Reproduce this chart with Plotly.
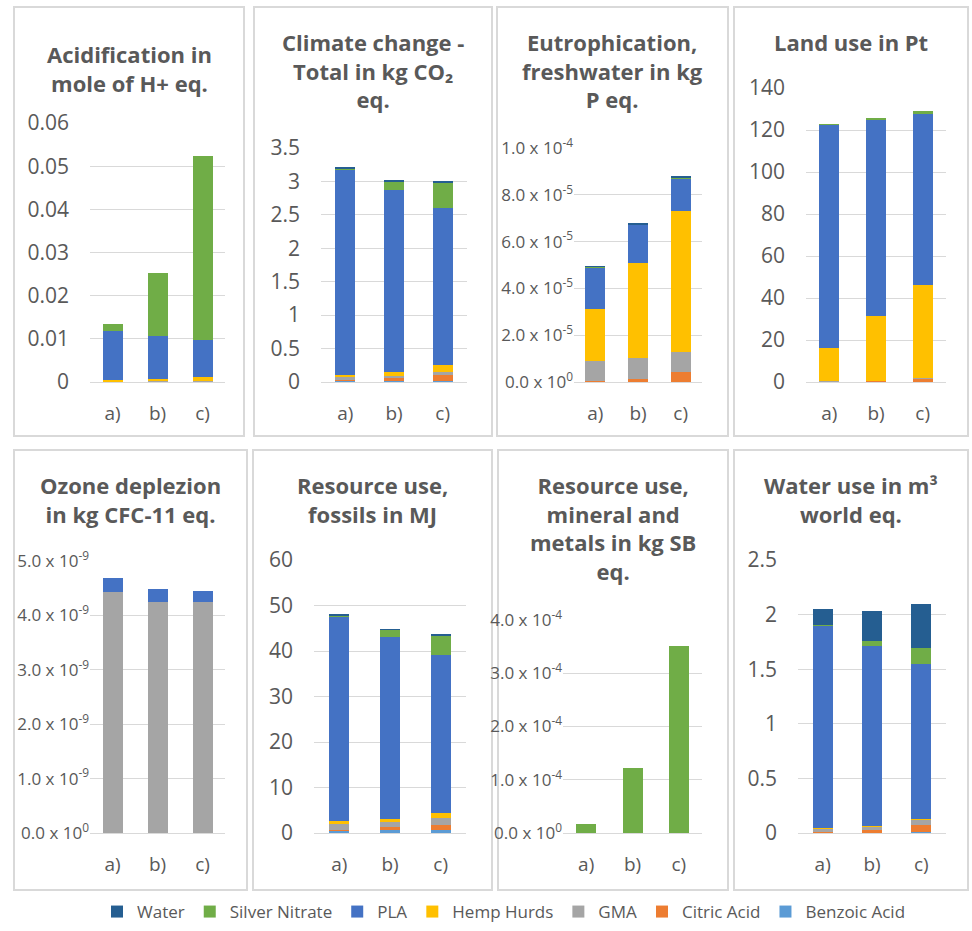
import plotly.graph_objects as go

# Alternatives compared in every impact category
CASES = ["a)", "b)", "c)"]

# Materials, bottom of the stack first
MATERIALS = ["Benzoic Acid", "Citric Acid", "GMA", "Hemp Hurds", "PLA", "Silver Nitrate", "Water"]
COLORS = {
    "Benzoic Acid": "#5B9BD5",
    "Citric Acid": "#ED7D31",
    "GMA": "#A5A5A5",
    "Hemp Hurds": "#FFC000",
    "PLA": "#4472C4",
    "Silver Nitrate": "#70AD47",
    "Water": "#255E91",
}

# Contributions per impact category (values for a), b), c))
acidification = {
    "Benzoic Acid": [0.00005, 0.00005, 0.00005],
    "Citric Acid": [0.00001, 0.00005, 0.0001],
    "GMA": [0.0001, 0.0001, 0.0001],
    "Hemp Hurds": [0.00034, 0.0006, 0.00085],
    "PLA": [0.0112, 0.0098, 0.00855],
    "Silver Nitrate": [0.0017, 0.0147, 0.0428],
    "Water": [0, 0, 0],
}
climate_change = {
    "Benzoic Acid": [0.02, 0.02, 0.015],
    "Citric Acid": [0.005, 0.035, 0.09],
    "GMA": [0.05, 0.04, 0.05],
    "Hemp Hurds": [0.035, 0.06, 0.10],
    "PLA": [3.07, 2.72, 2.355],
    "Silver Nitrate": [0.02, 0.13, 0.38],
    "Water": [0.005, 0.005, 0.005],
}
eutrophication = {
    "Benzoic Acid": [0.02e-5, 0.02e-5, 0.02e-5],
    "Citric Acid": [0.02e-5, 0.10e-5, 0.41e-5],
    "GMA": [0.86e-5, 0.89e-5, 0.87e-5],
    "Hemp Hurds": [2.22e-5, 4.08e-5, 5.99e-5],
    "PLA": [1.79e-5, 1.62e-5, 1.40e-5],
    "Silver Nitrate": [0.01e-5, 0.03e-5, 0.05e-5],
    "Water": [0.01e-5, 0.02e-5, 0.03e-5],
}
land_use = {
    "Benzoic Acid": [0.1, 0.1, 0.1],
    "Citric Acid": [0.1, 0.4, 1.5],
    "GMA": [0.1, 0.1, 0.1],
    "Hemp Hurds": [16.0, 30.6, 44.6],
    "PLA": [106.2, 93.7, 81.5],
    "Silver Nitrate": [0.2, 0.5, 1.4],
    "Water": [0, 0, 0],
}
ozone_depletion = {
    "Benzoic Acid": [0, 0, 0],
    "Citric Acid": [0, 0, 0],
    "GMA": [4.43e-9, 4.25e-9, 4.25e-9],
    "Hemp Hurds": [0, 0, 0],
    "PLA": [0.26e-9, 0.23e-9, 0.20e-9],
    "Silver Nitrate": [0, 0, 0],
    "Water": [0, 0, 0],
}
fossils = {
    "Benzoic Acid": [0.58, 0.58, 0.58],
    "Citric Acid": [0.05, 0.66, 1.24],
    "GMA": [1.41, 1.24, 1.54],
    "Hemp Hurds": [0.5, 0.66, 1.02],
    "PLA": [45.0, 39.86, 34.82],
    "Silver Nitrate": [0.35, 1.7, 4.3],
    "Water": [0.05, 0.05, 0.1],
}
minerals = {
    "Benzoic Acid": [0, 0, 0],
    "Citric Acid": [0, 0, 0],
    "GMA": [0, 0, 0],
    "Hemp Hurds": [0, 0, 0],
    "PLA": [0, 0, 0],
    "Silver Nitrate": [0.16e-4, 1.22e-4, 3.52e-4],
    "Water": [0, 0, 0],
}
water_use = {
    "Benzoic Acid": [0.005, 0.005, 0.005],
    "Citric Acid": [0.005, 0.018, 0.07],
    "GMA": [0.03, 0.04, 0.046],
    "Hemp Hurds": [0.002, 0.003, 0.004],
    "PLA": [1.854, 1.644, 1.422],
    "Silver Nitrate": [0.01, 0.05, 0.15],
    "Water": [0.144, 0.27, 0.40],
}

TITLES = [
    "Acidification in<br>mole of H+ eq.",
    "Climate change -<br>Total in kg CO₂<br>eq.",
    "Eutrophication,<br>freshwater in kg<br>P eq.",
    "Land use in Pt",
    "Ozone deplezion<br>in kg CFC-11 eq.",
    "Resource use,<br>fossils in MJ",
    "Resource use,<br>mineral and<br>metals in kg SB<br>eq.",
    "Water use in m³<br>world eq.",
]
DATASETS = [acidification, climate_change, eutrophication, land_use,
            ozone_depletion, fossils, minerals, water_use]


def sci(v, exp):
    return f"{v:.1f} x 10<sup>{exp}</sup>"


TICKS = [
    ([0, 0.01, 0.02, 0.03, 0.04, 0.05, 0.06], ["0", "0.01", "0.02", "0.03", "0.04", "0.05", "0.06"]),
    ([0, 0.5, 1, 1.5, 2, 2.5, 3, 3.5], ["0", "0.5", "1", "1.5", "2", "2.5", "3", "3.5"]),
    ([0, 2e-5, 4e-5, 6e-5, 8e-5, 1e-4], [sci(0, 0), sci(2, -5), sci(4, -5), sci(6, -5), sci(8, -5), sci(1, -4)]),
    ([0, 20, 40, 60, 80, 100, 120, 140], ["0", "20", "40", "60", "80", "100", "120", "140"]),
    ([0, 1e-9, 2e-9, 3e-9, 4e-9, 5e-9], [sci(0, 0), sci(1, -9), sci(2, -9), sci(3, -9), sci(4, -9), sci(5, -9)]),
    ([0, 10, 20, 30, 40, 50, 60], ["0", "10", "20", "30", "40", "50", "60"]),
    ([0, 1e-4, 2e-4, 3e-4, 4e-4], [sci(0, 0), sci(1, -4), sci(2, -4), sci(3, -4), sci(4, -4)]),
    ([0, 0.5, 1, 1.5, 2, 2.5], ["0", "0.5", "1", "1.5", "2", "2.5"]),
]
SCI_PANELS = {2, 4, 6}

W, H = 972, 931
# Plot areas in pixels: (left, right, top, bottom)
PLOT_PX = [
    (90, 225, 123, 382), (321, 467, 148, 382), (574, 702, 148, 382), (806, 946, 88, 382),
    (90, 225, 561, 833), (314, 466, 560, 833), (563, 702, 620, 833), (798, 946, 560, 833),
]
# Panel frames in pixels: (left, right, top, bottom)
BOX_PX = [
    (14, 244, 7, 436), (254, 492, 7, 436), (497, 728, 7, 436), (734, 968, 7, 436),
    (14, 247, 450, 890), (253, 492, 450, 890), (498, 728, 450, 890), (734, 968, 450, 890),
]
TITLE_TOP_PX = [37, 25, 25, 25, 468, 468, 468, 468]

GRID = "#D9D9D9"
TEXT = "#595959"
FONT = "Open Sans"

fig = go.Figure()
layout = {}
annotations = []
shapes = []

for i, data in enumerate(DATASETS):
    n = i + 1
    xa = "x" if n == 1 else f"x{n}"
    ya = "y" if n == 1 else f"y{n}"
    left, right, top, bottom = PLOT_PX[i]
    slot = (right - left) / len(CASES)
    for m in MATERIALS:
        fig.add_trace(go.Bar(
            x=CASES, y=data[m], name=m, legendgroup=m, showlegend=(i == 0),
            marker=dict(color=COLORS[m], line=dict(width=0)),
            width=20 / slot, xaxis=xa, yaxis=ya,
        ))
    tv, tt = TICKS[i]
    is_sci = i in SCI_PANELS
    layout[f"xaxis{'' if n == 1 else n}"] = dict(
        domain=[left / W, right / W], anchor=ya, type="category",
        showline=True, linecolor=GRID, linewidth=1, showgrid=False,
        ticks="", tickfont=dict(family=FONT, size=19, color=TEXT),
        ticklabelstandoff=14, fixedrange=True,
    )
    layout[f"yaxis{'' if n == 1 else n}"] = dict(
        domain=[1 - bottom / H, 1 - top / H], anchor=xa,
        range=[0, tv[-1]], tickvals=tv, ticktext=tt,
        showgrid=True, gridcolor=GRID, gridwidth=1, zeroline=False,
        showline=False, ticks="",
        tickfont=dict(family=FONT, size=(17 if is_sci else 21), color=TEXT),
        ticklabelstandoff=(0 if is_sci else 20), fixedrange=True,
    )
    bl, br, bt, bb = BOX_PX[i]
    shapes.append(dict(type="rect", xref="paper", yref="paper",
                       x0=bl / W, x1=br / W, y0=1 - bb / H, y1=1 - bt / H,
                       line=dict(color=GRID, width=2), layer="below"))
    annotations.append(dict(
        text=f"<b>{TITLES[i]}</b>", xref="paper", yref="paper",
        x=(bl + br) / 2 / W, y=1 - TITLE_TOP_PX[i] / H,
        xanchor="center", yanchor="top", showarrow=False, align="center",
        font=dict(family=FONT, size=22, color=TEXT),
    ))

fig.update_layout(
    **layout,
    barmode="stack",
    width=W, height=H,
    margin=dict(l=0, r=0, t=0, b=0, autoexpand=False),
    paper_bgcolor="white", plot_bgcolor="white",
    shapes=shapes, annotations=annotations,
    showlegend=True,
    legend=dict(
        orientation="h", traceorder="reversed",
        x=97 / W, xanchor="left", y=1 - 912 / H, yanchor="middle",
        font=dict(family=FONT, size=17, color=TEXT),
        bgcolor="rgba(0,0,0,0)", itemclick=False, itemdoubleclick=False,
    ),
)

fig.write_html("out.html")
